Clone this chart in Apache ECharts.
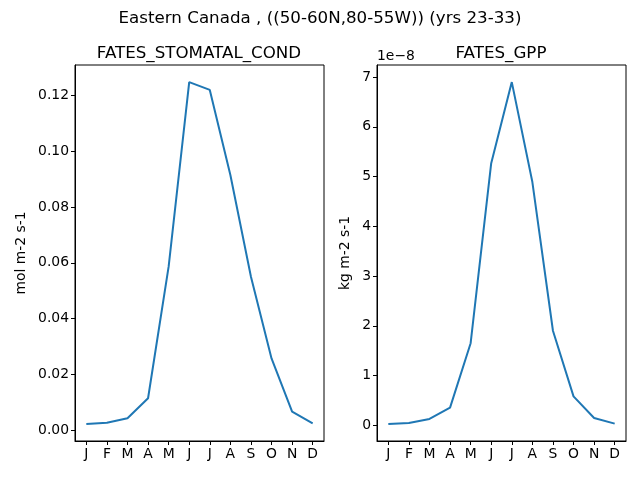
<!DOCTYPE html>
<html lang="en" style="height: 100%">
<head>
  <meta charset="utf-8">
</head>
<body style="height: 100%; margin: 0; background: #fff">
  <div id="container" style="height: 100%"></div>

  <script type="text/javascript" src="https://fastly.jsdelivr.net/npm/echarts@6.0.0/dist/echarts.min.js"></script>
  <script type="text/javascript">
    // months on the x axis
    var months = ['J', 'F', 'M', 'A', 'M', 'J', 'J', 'A', 'S', 'O', 'N', 'D'];
    // FATES_STOMATAL_COND, mol m-2 s-1
    var stomatalCond = [0.0022, 0.0026, 0.0042, 0.0114, 0.0586, 0.1248, 0.1220, 0.0915, 0.0550, 0.0257, 0.0066, 0.0024];
    // FATES_GPP, in units of 1e-8 kg m-2 s-1
    var gppE8 = [0.027, 0.047, 0.127, 0.354, 1.65, 5.27, 6.90, 4.89, 1.90, 0.58, 0.147, 0.033];
    // y tick labels
    var condTicks = [0.00, 0.02, 0.04, 0.06, 0.08, 0.10, 0.12];
    var gppTicks = [0, 1, 2, 3, 4, 5, 6, 7];

    var dom = document.getElementById('container');
    var myChart = echarts.init(dom, null, { renderer: 'canvas' });

    var font = 'DejaVu Sans';
    var monthIdx = months.map(function (m, i) { return i; });

    // matplotlib-style 5% margins
    function pad(arr) {
      var lo = Math.min.apply(null, arr), hi = Math.max.apply(null, arr);
      var m = (hi - lo) * 0.05;
      return [lo - m, hi + m];
    }
    var condRange = pad(stomatalCond);
    var gppRange = pad(gppE8);

    function xAxisFor(gi) {
      return {
        type: 'value', gridIndex: gi, min: -0.55, max: 11.55,
        splitLine: { show: false },
        axisLine: { show: true, onZero: false, lineStyle: { color: '#000', width: 1 } },
        axisTick: { show: true, inside: false, length: 4, lineStyle: { color: '#000', width: 1 }, customValues: monthIdx },
        axisLabel: {
          customValues: monthIdx, color: '#000', fontFamily: font, fontSize: 13.9, margin: 6,
          formatter: function (v) { return months[Math.round(v)]; }
        }
      };
    }
    function yAxisFor(gi, range, ticks, name, gap, fmt) {
      return {
        type: 'value', gridIndex: gi, min: range[0], max: range[1],
        name: name, nameLocation: 'middle', nameGap: gap, nameRotate: 90,
        nameTextStyle: { color: '#000', fontFamily: font, fontSize: 13.9 },
        splitLine: { show: false },
        axisLine: { show: true, onZero: false, lineStyle: { color: '#000', width: 1 } },
        axisTick: { show: true, inside: false, length: 4, lineStyle: { color: '#000', width: 1 }, customValues: ticks },
        axisLabel: {
          customValues: ticks, color: '#000', fontFamily: font, fontSize: 13.9, margin: 6,
          formatter: fmt
        }
      };
    }

    var option = {
      backgroundColor: '#fff',
      animation: false,
      title: [
        { text: 'Eastern Canada , ((50-60N,80-55W)) (yrs 23-33)', left: 315, top: 5, textAlign: 'center',
          textStyle: { fontFamily: font, fontSize: 16.7, fontWeight: 'normal', color: '#000' } },
        { text: 'FATES_STOMATAL_COND', left: 194, top: 40, textAlign: 'center',
          textStyle: { fontFamily: font, fontSize: 16.7, fontWeight: 'normal', color: '#000' } },
        { text: 'FATES_GPP', left: 496, top: 40, textAlign: 'center',
          textStyle: { fontFamily: font, fontSize: 16.7, fontWeight: 'normal', color: '#000' } }
      ],
      graphic: [
        { type: 'text', left: 377, top: 49,
          style: { text: '1e\u22128', fill: '#000', font: '13.9px "DejaVu Sans"' } }
      ],
      grid: [
        { left: 75, top: 65, width: 249, height: 376, show: true, borderColor: '#000', borderWidth: 1, backgroundColor: 'transparent' },
        { left: 377, top: 65, width: 249, height: 376, show: true, borderColor: '#000', borderWidth: 1, backgroundColor: 'transparent' }
      ],
      xAxis: [xAxisFor(0), xAxisFor(1)],
      yAxis: [
        yAxisFor(0, condRange, condTicks, 'mol m-2 s-1', 47, function (v) { return v.toFixed(2); }),
        yAxisFor(1, gppRange, gppTicks, 'kg m-2 s-1', 25, function (v) { return String(Math.round(v)); })
      ],
      series: [
        {
          type: 'line', xAxisIndex: 0, yAxisIndex: 0, symbol: 'none',
          lineStyle: { color: '#1f77b4', width: 2 },
          data: stomatalCond.map(function (v, i) { return [i, v]; })
        },
        {
          type: 'line', xAxisIndex: 1, yAxisIndex: 1, symbol: 'none',
          lineStyle: { color: '#1f77b4', width: 2 },
          data: gppE8.map(function (v, i) { return [i, v]; })
        }
      ]
    };

    myChart.setOption(option);
    window.addEventListener('resize', myChart.resize);
  </script>
</body>
</html>
